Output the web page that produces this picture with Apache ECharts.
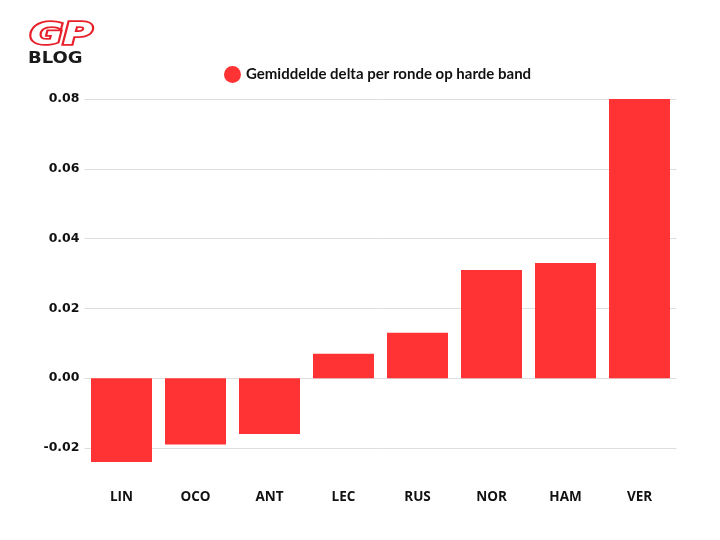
<!DOCTYPE html>
<html>
<head>
<meta charset="utf-8">
<script src="https://cdn.jsdelivr.net/npm/echarts@6/dist/echarts.min.js"></script>
<style>html,body{margin:0;padding:0;background:#fff;}#c{width:720px;height:540px;}</style>
</head>
<body>
<div id="c"></div>
<script>
const categories = ['LIN', 'OCO', 'ANT', 'LEC', 'RUS', 'NOR', 'HAM', 'VER'];
const deltas = [-0.024, -0.019, -0.016, 0.007, 0.013, 0.031, 0.033, 0.08];
const seriesName = 'Gemiddelde delta per ronde op harde band';

const chart = echarts.init(document.getElementById('c'), null, {renderer: 'canvas'});
chart.setOption({
  animation: false,
  backgroundColor: '#ffffff',
  legend: {
    top: 61,
    left: 219,
    icon: 'circle',
    itemWidth: 17,
    itemHeight: 17,
    itemGap: 6,
    textStyle: {fontFamily: 'Lato', fontWeight: 'bold', fontSize: 15, color: '#111'},
    data: [seriesName]
  },
  grid: {left: 84.5, right: 43.5, top: 99, bottom: 78, containLabel: false},
  xAxis: {
    type: 'category',
    data: categories,
    axisLine: {show: false},
    axisTick: {show: false},
    axisLabel: {margin: 28, fontFamily: 'Open Sans', fontWeight: 'bold', fontSize: 13.5, color: '#111'}
  },
  yAxis: {
    type: 'value',
    min: -0.024,
    max: 0.08,
    axisLine: {show: false},
    axisTick: {show: false},
    axisLabel: {
      margin: 5,
      fontFamily: 'DejaVu Sans', fontWeight: 'bold', fontSize: 12.5, color: '#111',
      formatter: function (v) {
        const r = Math.round(v * 100);
        if (Math.abs(v * 100 - r) > 1e-6 || r % 2 !== 0) return '';
        return (r / 100).toFixed(2);
      },
      showMinLabel: false
    },
    splitLine: {showMinLine: false, lineStyle: {color: '#dedede', width: 1}}
  },
  series: [{
    name: seriesName,
    type: 'bar',
    data: deltas,
    barWidth: 61,
    itemStyle: {color: '#ff3333'}
  }],
  graphic: [
    {type: 'text', x: 30, y: 20, scaleX: 1.3, style: {text: 'GP', font: 'italic 900 31px "DejaVu Sans"', fill: '#ffffff', stroke: '#e8202a', lineWidth: 3.5}},
    {type: 'text', x: 28, y: 52, scaleX: 1.2, style: {text: 'BLOG', font: 'bold 15px "DejaVu Sans"', fill: '#1a1a1a'}}
  ]
});
</script>
</body>
</html>
